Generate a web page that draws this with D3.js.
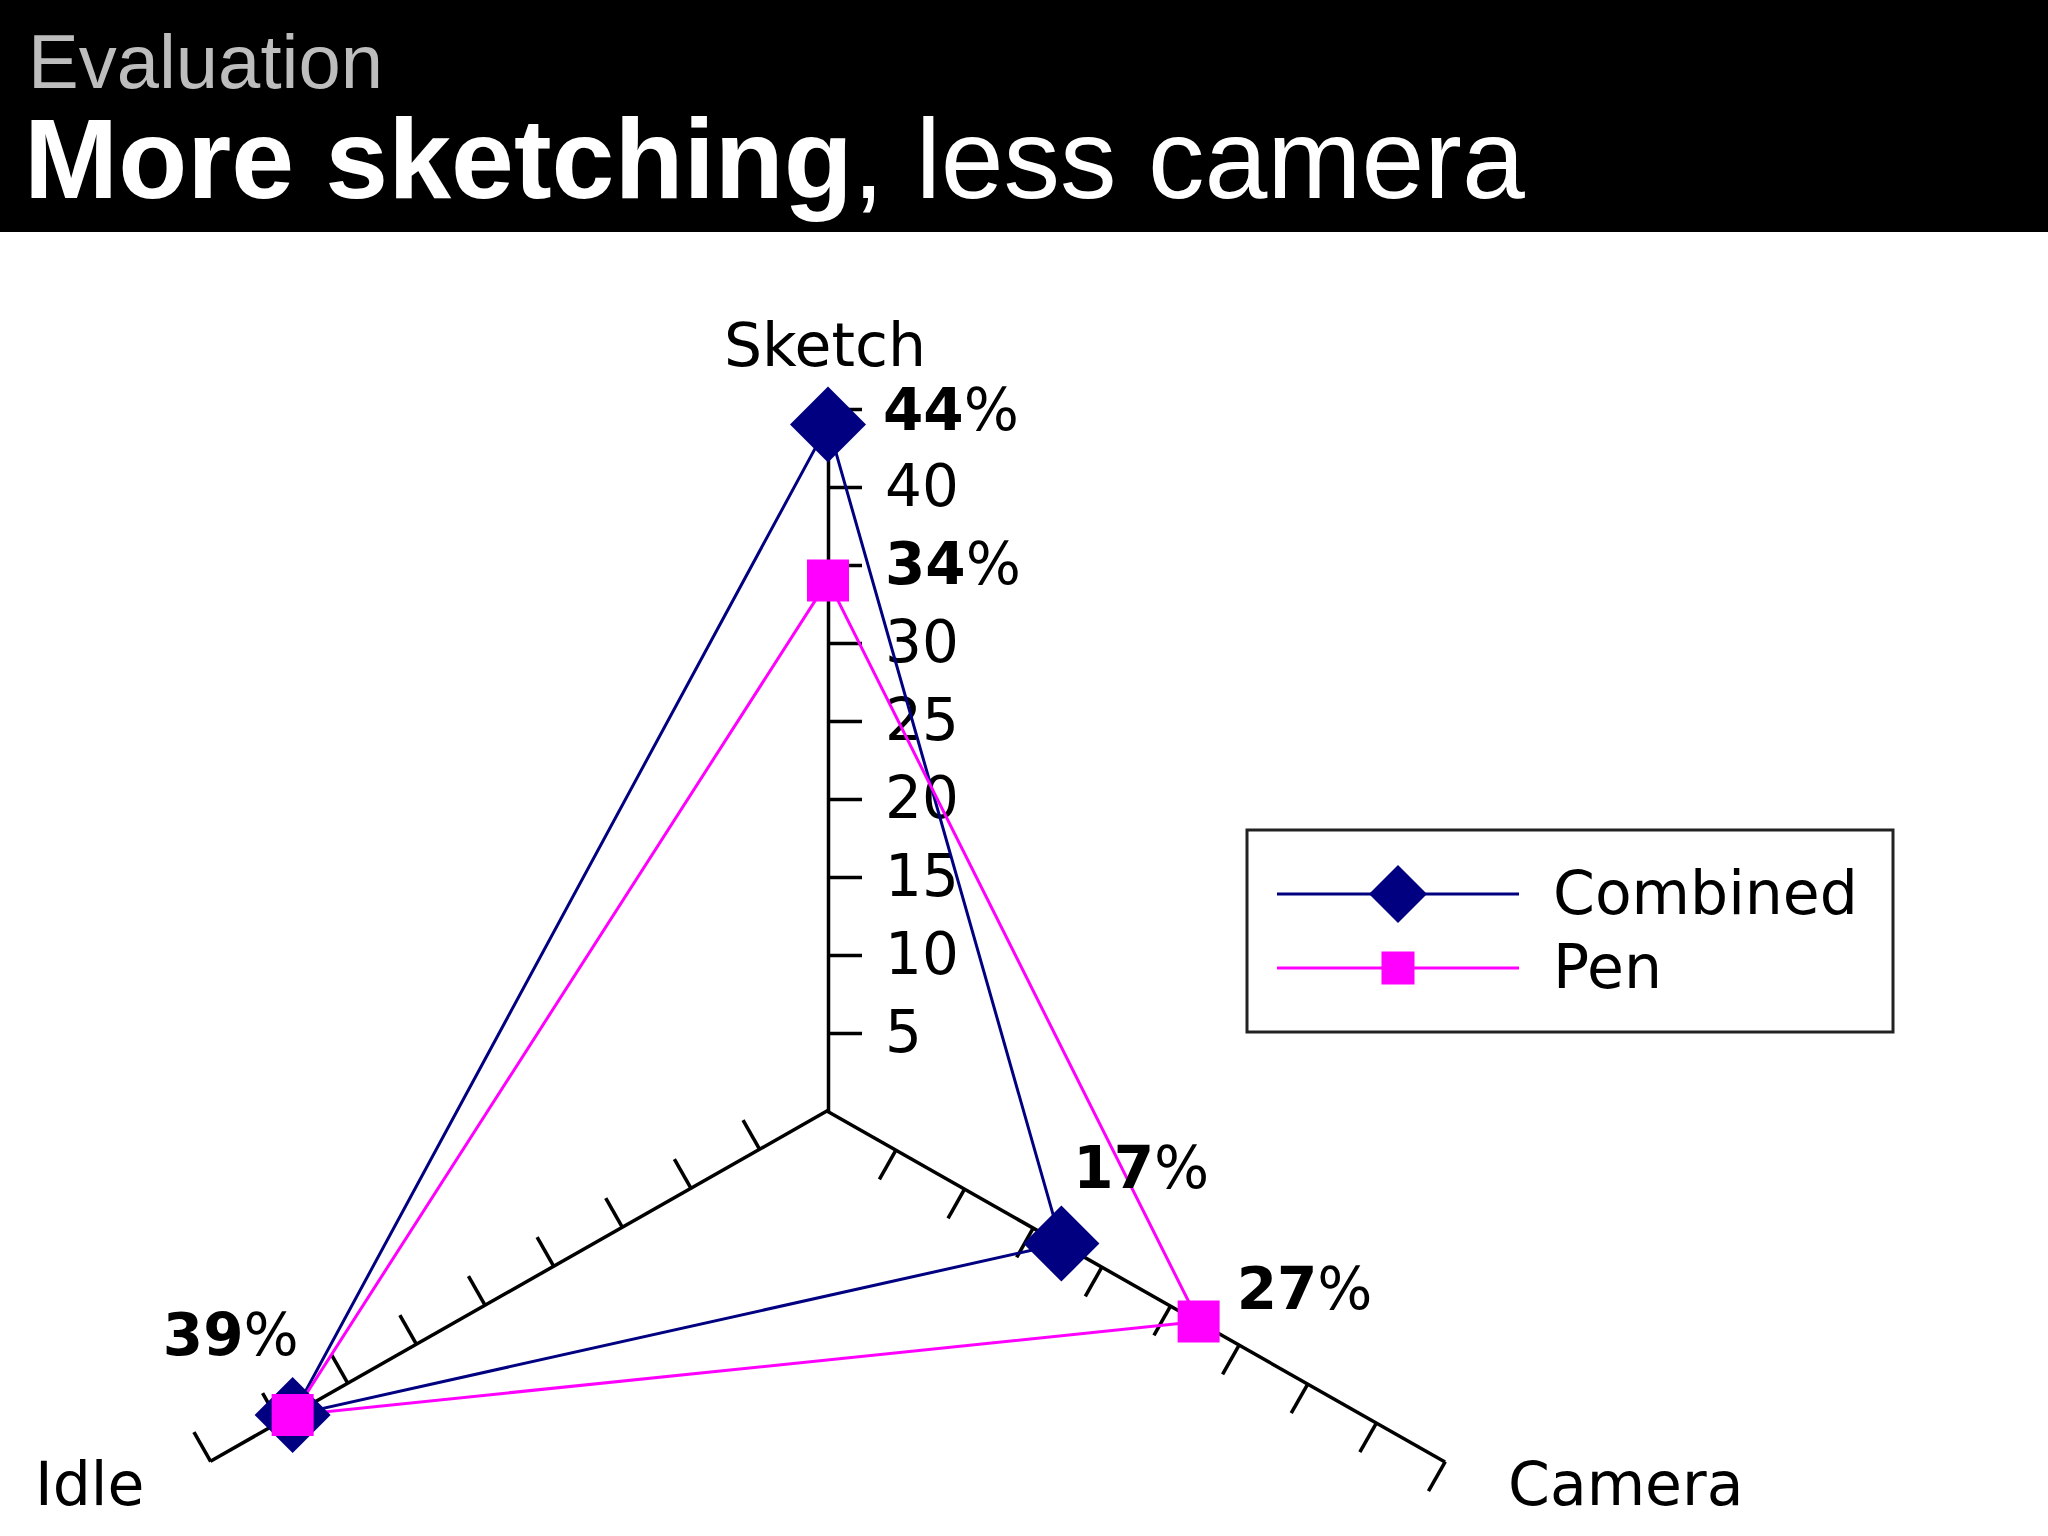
<!DOCTYPE html>
<html>
<head>
<meta charset="utf-8">
<script src="https://cdn.jsdelivr.net/npm/d3@7"></script>
<style>
  body { margin: 0; background: #fff; }
  svg { display: block; }
</style>
</head>
<body>
<div id="chart"></div>
<script>
// chart data
let axisNames = ["Sketch", "Camera", "Idle"]
let combinedValues = [44, 17, 39]
let penValues = [34, 27, 39]
let tickValues = [5, 10, 15, 20, 25, 30, 35, 40, 45]
let tickLabels = ["5", "10", "15", "20", "25", "30", "", "40", ""]
let seriesNames = ["Combined", "Pen"]

drawRadar()

function drawRadar () {
    var width = 2048,
        height = 1536,
        cx = 828,
        cy = 1111,
        radius = 702

    var font = "DejaVu Sans, Verdana, sans-serif"
    var colors = ["#000080", "#ff00ff"]
    var angles = [0, 119.6, 240.4]   // degrees, clockwise from straight up
    var stretch = [1, 1.012, 1.012]  // side axes are drawn a touch longer

    const svg = d3.select("#chart")
        .append("svg")
        .attr("width", width)
        .attr("height", height)

    // header band
    svg.append("rect")
        .attr("width", width)
        .attr("height", 232)
        .attr("fill", "#000")

    svg.append("text")
        .attr("x", 28)
        .attr("y", 88)
        .attr("font-family", "Liberation Sans, Arial, sans-serif")
        .attr("font-size", 76)
        .attr("fill", "#bdbdbd")
        .text("Evaluation")

    const title = svg.append("text")
        .attr("x", 24)
        .attr("y", 198)
        .attr("font-family", "Liberation Sans, Arial, sans-serif")
        .attr("font-size", 113)
        .attr("fill", "#fff")
    title.append("tspan").attr("font-weight", "bold").text("More sketching")
    title.append("tspan").text(", less camera")

    const rScale = d3.scaleLinear()
        .domain([0, 45])
        .range([0, -radius])

    function point (v, i) {
        var a = angles[i] * Math.PI / 180
        var r = -rScale(v) * stretch[i]
        return [cx + r * Math.sin(a), cy - r * Math.cos(a)]
    }

    // three axes, all the same axis rotated round the centre
    angles.forEach((a, i) => {
        const axis = d3.axisRight(rScale)
            .tickValues(tickValues)
            .tickSize(34)
            .tickSizeOuter(0)
            .tickPadding(23)
            .tickFormat((d, k) => i == 0 ? tickLabels[k] : "")

        const g = svg.append("g")
            .attr("transform", "translate(" + cx + "," + cy + ") rotate(" + a + ") scale(1," + stretch[i] + ")")
            .call(axis)

        g.select(".domain").attr("stroke", "#000").attr("stroke-width", 3.5)
        g.selectAll(".tick line").attr("stroke", "#000").attr("stroke-width", 3.5)
        g.selectAll(".tick text")
            .attr("font-family", font)
            .attr("font-size", 58)
            .attr("fill", "#000")
    })

    // axis names
    var namePos = [[825, 366, "middle"], [1508, 1505, "start"], [35, 1505, "start"]]
    axisNames.forEach((n, i) => {
        svg.append("text")
            .attr("x", namePos[i][0])
            .attr("y", namePos[i][1])
            .attr("text-anchor", namePos[i][2])
            .attr("font-family", font)
            .attr("font-size", 60)
            .attr("fill", "#000")
            .text(n)
    })

    const line = d3.line().curve(d3.curveLinearClosed)
    var allSeries = [combinedValues, penValues]

    allSeries.forEach((vals, s) => {
        var pts = vals.map((v, i) => point(v, i))
        svg.append("path")
            .attr("d", line(pts))
            .attr("fill", "none")
            .attr("stroke", colors[s])
            .attr("stroke-width", 3)
    })

    // markers on top of both lines
    allSeries.forEach((vals, s) => {
        var pts = vals.map((v, i) => point(v, i))
        svg.selectAll(".m" + s)
            .data(pts)
            .enter()
            .append("path")
            .attr("class", "m" + s)
            .attr("transform", d => "translate(" + d[0] + "," + d[1] + ")")
            .attr("d", s == 0 ? "M0,-38L38,0L0,38L-38,0Z" : "M-21,-21H21V21H-21Z")
            .attr("fill", colors[s])
    })

    // value labels: [series, axis, dx, dy, anchor]
    var labelSpots = [
        [0, 0, 55, 5, "start"],
        [1, 0, 57, 3, "start"],
        [0, 1, 12, -56, "start"],
        [1, 1, 38, -13, "start"],
        [0, 2, 6, -60, "end"]
    ]
    labelSpots.forEach(l => {
        var v = allSeries[l[0]][l[1]]
        var p = point(v, l[1])
        const t = svg.append("text")
            .attr("x", p[0] + l[2])
            .attr("y", p[1] + l[3])
            .attr("text-anchor", l[4])
            .attr("font-family", font)
            .attr("font-size", 58)
            .attr("fill", "#000")
        t.append("tspan").attr("font-weight", "bold").text(v)
        t.append("tspan").text("%")
    })

    // legend
    const legend = svg.append("g")
    legend.append("rect")
        .attr("x", 1247)
        .attr("y", 830)
        .attr("width", 646)
        .attr("height", 202)
        .attr("fill", "#fff")
        .attr("stroke", "#222")
        .attr("stroke-width", 3)

    seriesNames.forEach((n, s) => {
        var y = 894 + s * 74
        legend.append("line")
            .attr("x1", 1277).attr("x2", 1519)
            .attr("y1", y).attr("y2", y)
            .attr("stroke", colors[s])
            .attr("stroke-width", 3)
        legend.append("path")
            .attr("transform", "translate(1398," + y + ")")
            .attr("d", s == 0 ? "M0,-29L29,0L0,29L-29,0Z" : "M-16.5,-16.5H16.5V16.5H-16.5Z")
            .attr("fill", colors[s])
        legend.append("text")
            .attr("x", 1553)
            .attr("y", y + 20)
            .attr("font-family", font)
            .attr("font-size", 60)
            .attr("fill", "#000")
            .text(n)
    })
}
</script>
</body>
</html>
